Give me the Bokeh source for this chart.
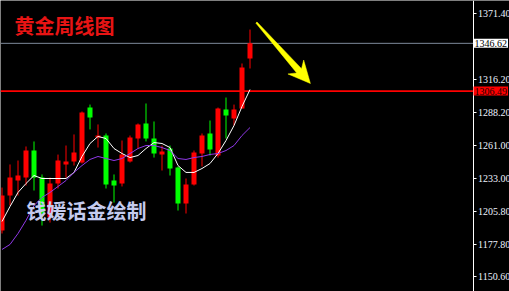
import numpy as np
from bokeh.plotting import figure
from bokeh.models import FixedTicker, PrintfTickFormatter, Label
from bokeh.core.properties import value
from bokeh.embed import file_html
from bokeh.resources import INLINE

# Weekly gold bars, oldest first
opens  = [1189.4, 1218.8, 1231.4, 1233.9, 1256.6, 1233.9, 1200.4, 1228.9,
          1244.9, 1247.4, 1246.5, 1292.7, 1267.5, 1269.2, 1231.4, 1228.9,
          1247.4, 1266.7, 1279.3, 1266.7, 1253.2, 1258.3, 1242.3, 1212.1,
          1228.1, 1254.1, 1270.9, 1252.4, 1291.0, 1283.5, 1291.9, 1333.9]
highs  = [1225.5, 1244.9, 1248.2, 1260.0, 1264.2, 1236.5, 1233.9, 1253.2,
          1260.8, 1270.1, 1289.4, 1295.2, 1278.5, 1270.9, 1236.5, 1265.0,
          1269.2, 1279.3, 1296.1, 1281.0, 1260.8, 1260.8, 1243.2, 1233.1,
          1256.6, 1270.9, 1281.8, 1292.7, 1301.1, 1295.2, 1329.7, 1358.2]
lows   = [1186.9, 1210.4, 1218.8, 1227.2, 1223.0, 1193.6, 1196.1, 1224.7,
          1233.9, 1244.0, 1245.7, 1274.3, 1259.1, 1224.7, 1212.9, 1226.4,
          1246.5, 1258.3, 1264.2, 1250.7, 1239.8, 1235.6, 1206.2, 1203.7,
          1227.2, 1243.2, 1252.4, 1250.7, 1266.7, 1277.6, 1291.9, 1325.5]
closes = [1218.8, 1233.9, 1235.6, 1256.6, 1233.9, 1203.7, 1228.9, 1248.2,
          1247.4, 1254.9, 1288.5, 1284.3, 1269.2, 1228.1, 1227.2, 1253.2,
          1267.5, 1278.5, 1266.7, 1254.1, 1255.8, 1241.5, 1212.1, 1228.1,
          1254.9, 1269.2, 1257.4, 1291.9, 1286.0, 1291.0, 1326.3, 1346.62]

# Moving averages (fast = white, slow = purple)
ma_fast = [1197.0, 1209.6, 1221.4, 1228.9, 1235.6, 1233.1, 1233.1, 1233.1,
           1233.1, 1238.2, 1251.6, 1262.5, 1268.4, 1266.7, 1258.3, 1254.1,
           1250.7, 1252.4, 1258.3, 1263.3, 1262.5, 1259.1, 1244.0, 1238.2,
           1238.2, 1241.5, 1245.7, 1254.1, 1265.0, 1277.6, 1293.6, 1307.8]
ma_slow = [1173.5, 1177.7, 1186.9, 1197.9, 1210.4, 1217.2, 1221.4, 1226.4,
           1231.4, 1238.2, 1244.0, 1249.1, 1251.6, 1249.9, 1248.2, 1249.9,
           1254.1, 1258.3, 1260.8, 1260.8, 1259.1, 1256.6, 1249.9, 1249.1,
           1250.7, 1251.6, 1253.3, 1254.1, 1256.6, 1260.8, 1269.2, 1275.9]

price_ticks = [1371.40, 1316.20, 1288.20, 1261.00, 1233.00, 1205.80, 1177.80, 1150.60]
last_price = 1346.62
resistance = 1306.49

title_text = "黄金周线图"
signature_text = "钱媛话金绘制"

# Geometry: 8 px per bar; the price scale sits inside the frame at px 472
FRAME_W, FRAME_H = 509, 291
X0 = -0.1875
X1 = X0 + FRAME_W / 8.0
AXIS_X = X0 + 472.5 / 8.0
Y0, Y1 = 1138.2, 1382.6
PX_PER_BAR = FRAME_W / (X1 - X0)
PX_PER_USD = FRAME_H / (Y1 - Y0)

AXIS_FONT = "Liberation Sans Narrow"
AXIS_SIZE = "10px"

idx = np.arange(len(opens))
o = np.array(opens); c = np.array(closes)
colors = ["#ff0000" if cc >= oo else "#00ff00" for oo, cc in zip(o, c)]

p = figure(frame_width=FRAME_W, frame_height=FRAME_H,
           x_range=(X0, X1), y_range=(Y0, Y1),
           x_axis_location=None, y_axis_location="right",
           toolbar_location=None, output_backend="svg",
           background_fill_color="black", border_fill_color="black",
           outline_line_color=None,
           min_border_left=0, min_border_right=0,
           min_border_top=0, min_border_bottom=0)
p.grid.visible = False

ax = p.yaxis[0]
ax.fixed_location = AXIS_X
ax.ticker = FixedTicker(ticks=price_ticks, minor_ticks=[])
ax.formatter = PrintfTickFormatter(format="%.2f")
ax.axis_line_color = "white"
ax.axis_line_width = 1
ax.major_tick_line_color = "white"
ax.major_tick_out = 3
ax.major_tick_in = 0
ax.minor_tick_line_color = None
ax.major_label_standoff = 2
ax.major_label_text_color = "#eef3ff"
ax.major_label_text_font = AXIS_FONT
ax.major_label_text_font_size = AXIS_SIZE

# reference lines, up to the price scale
p.segment(x0=[X0, X0], y0=[last_price, resistance],
          x1=[AXIS_X, AXIS_X], y1=[last_price, resistance],
          line_color=["#7d8a9a", "#ff0000"], line_width=[1, 1.6])

# candles
p.segment(x0=idx, y0=lows, x1=idx, y1=highs, line_color=colors, line_width=1)
p.vbar(x=idx, width=5.0 / PX_PER_BAR,
       top=np.maximum(o, c), bottom=np.minimum(o, c),
       fill_color=colors, line_color=None)

# moving averages
p.line(idx, ma_fast, line_color="white", line_width=1)
p.line(idx, ma_slow, line_color="#9038e8", line_width=1)

# yellow arrow pointing down-right
ARROW_TAIL = (31.8, 1364.1)
ARROW_TIP = (38.55, 1312.9)
tx, ty = ARROW_TAIL
hx, hy = ARROW_TIP
dxp = (hx - tx) * PX_PER_BAR
dyp = (hy - ty) * PX_PER_USD
L = np.hypot(dxp, dyp)
ux, uy = dxp / L, dyp / L
nx, ny = -uy, ux

def pt(along, side):
    px = along * ux + side * nx
    py = along * uy + side * ny
    return tx + px / PX_PER_BAR, ty + py / PX_PER_USD

poly = [pt(0, 0.8), pt(L - 17, 3.2), pt(L - 22, 10.5), pt(L, 0),
        pt(L - 22, -10.5), pt(L - 17, -3.2), pt(0, -0.8)]
p.patch([q[0] for q in poly], [q[1] for q in poly],
        fill_color="#ffff00", line_color="#ffff00", line_width=0.5)

# texts
p.text(x=[1.56], y=[1361.6], text=[title_text],
       text_font=value("Noto Sans CJK SC"), text_font_size="20px",
       text_font_style="bold", text_color="#e81414",
       text_baseline="middle", text_align="left")
p.text(x=[3.06], y=[1206.3], text=[signature_text],
       text_font=value("Noto Sans CJK SC"), text_font_size="20px",
       text_font_style="bold", text_color="#c4cbee",
       text_baseline="middle", text_align="left")

# price tags on the scale
for price, bg, fg in [(last_price, "white", "black"), (resistance, "#ff0000", "#200000")]:
    p.add_layout(Label(x=AXIS_X, y=price, x_offset=0.5,
                       text=f"{price:.2f}", padding=1,
                       text_font=AXIS_FONT, text_font_size=AXIS_SIZE,
                       text_color=fg, background_fill_color=bg,
                       text_baseline="middle", text_align="left"))

open("out.html", "w").write(file_html(p, INLINE))
